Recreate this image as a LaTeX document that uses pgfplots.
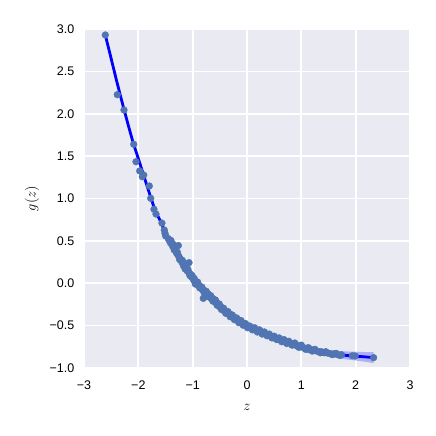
\documentclass[border=0pt]{standalone}
\usepackage{pgfplots}
\pgfplotsset{compat=1.18}
\usepackage{fontspec}
\setmainfont{Liberation Sans}
\usetikzlibrary{calc}
\definecolor{bgc}{RGB}{234,234,242}
\definecolor{pts}{RGB}{80,117,178}
\begin{document}
\begin{tikzpicture}
\begin{axis}[
  scale only axis,
  width=326bp, height=339bp,
  xmin=-3, xmax=3, ymin=-1, ymax=3,
  axis background/.style={fill=bgc},
  axis line style={draw=none},
  tick style={draw=none},
  grid=major,
  major grid style={white, line width=1.7bp},
  xtick={-3,-2,-1,0,1,2,3},
  xticklabels={−3,−2,−1,0,1,2,3},
  ytick={-1,-0.5,0,0.5,1,1.5,2,2.5,3},
  yticklabels={−1.0,−0.5,0.0,0.5,1.0,1.5,2.0,2.5,3.0},
  xticklabel style={anchor=north, inner sep=0pt, yshift=-13bp, font=\fontsize{12.5bp}{14bp}\selectfont},
  yticklabel style={anchor=east, inner sep=0pt, xshift=-9.5bp, font=\fontsize{12.5bp}{14bp}\selectfont},
  xlabel={$z$},
  ylabel={$g(z)$},
  xlabel style={at={(axis description cs:0.5,-0.1239)}, anchor=base, inner sep=0pt, font=\fontsize{15bp}{17bp}\selectfont},
  ylabel style={at={(axis description cs:-0.1595,0.5)}, anchor=center, inner sep=0pt, font=\fontsize{15bp}{17bp}\selectfont},
  clip=false,
]
\coordinate (bl) at (rel axis cs:0,0);
\coordinate (tr) at (rel axis cs:1,1);
% confidence band
\addplot[draw=none, fill=blue, fill opacity=0.25] coordinates {
(-2.61,2.975) (-2.5,2.685) (-2.4,2.42) (-2.3,2.165) (-2.2,1.92) (-2.1,1.69) (-2.0,1.485) (-1.9,1.285) (-1.8,1.082) (-1.7,0.89) (-1.6,0.75) (-1.5,0.60) (-1.4,0.49) (-1.3,0.373) (-1.2,0.263) (-1.1,0.163) (-1.0,0.068) (-0.9,-0.007) (-0.8,-0.077) (-0.7,-0.137) (-0.6,-0.202) (-0.5,-0.267) (-0.4,-0.322) (-0.3,-0.372) (-0.2,-0.417) (-0.1,-0.457) (0,-0.497) (0.2,-0.55) (0.4,-0.603) (0.6,-0.65) (0.8,-0.69) (1.0,-0.725) (1.2,-0.76) (1.4,-0.78) (1.6,-0.795) (1.8,-0.804) (2.0,-0.808) (2.2,-0.812) (2.33,-0.813)
(2.33,-0.943) (2.2,-0.928) (2.0,-0.912) (1.8,-0.896) (1.6,-0.875) (1.4,-0.85) (1.2,-0.82) (1.0,-0.775) (0.8,-0.73) (0.6,-0.68) (0.4,-0.627) (0.2,-0.57) (0,-0.513) (-0.1,-0.473) (-0.2,-0.433) (-0.3,-0.388) (-0.4,-0.338) (-0.5,-0.283) (-0.6,-0.218) (-0.7,-0.153) (-0.8,-0.093) (-0.9,-0.023) (-1.0,0.052) (-1.1,0.147) (-1.2,0.247) (-1.3,0.357) (-1.4,0.47) (-1.5,0.58) (-1.6,0.73) (-1.7,0.87) (-1.8,1.058) (-1.9,1.255) (-2.0,1.455) (-2.1,1.65) (-2.2,1.88) (-2.3,2.115) (-2.4,2.36) (-2.5,2.615) (-2.61,2.895)
} -- cycle;
% regression line
\addplot[blue, line width=2.8bp, smooth] coordinates {
(-2.61,2.935) (-2.5,2.65) (-2.4,2.39) (-2.3,2.14) (-2.2,1.90) (-2.1,1.67) (-2.0,1.47) (-1.9,1.27) (-1.8,1.07) (-1.7,0.88) (-1.6,0.74) (-1.5,0.59) (-1.4,0.48) (-1.3,0.365) (-1.2,0.255) (-1.1,0.155) (-1.0,0.06) (-0.9,-0.015) (-0.8,-0.085) (-0.7,-0.145) (-0.6,-0.21) (-0.5,-0.275) (-0.4,-0.33) (-0.3,-0.38) (-0.2,-0.425) (-0.1,-0.465) (0.0,-0.505) (0.2,-0.56) (0.4,-0.615) (0.6,-0.665) (0.8,-0.71) (1.0,-0.75) (1.2,-0.79) (1.4,-0.815) (1.6,-0.835) (1.8,-0.85) (2.0,-0.86) (2.2,-0.87) (2.33,-0.878)
};
% scatter
\addplot[only marks, color=pts, mark=*, mark size=3.4bp, mark options={draw=none, fill=pts}] coordinates {
(-2.608,2.929) (-2.387,2.225) (-2.264,2.044) (-2.085,1.640) (-2.043,1.434) (-1.975,1.325) (-1.927,1.257) (-1.901,1.277) (-1.798,1.147) (-1.772,1.002) (-1.712,0.873) (-1.675,0.817) (-1.565,0.710) (-1.522,0.628) (-1.509,0.589) (-1.496,0.558) (-1.448,0.526)
(-1.43,0.505) (-1.41,0.478) (-1.39,0.470) (-1.37,0.438) (-1.35,0.428) (-1.33,0.392) (-1.32,0.395) (-1.30,0.362) (-1.29,0.352) (-1.27,0.332) (-1.25,0.312) (-1.23,0.290) (-1.21,0.272) (-1.20,0.250) (-1.18,0.245) (-1.17,0.208) (-1.15,0.207) (-1.13,0.174) (-1.11,0.168) (-1.10,0.145) (-1.08,0.142) (-1.06,0.114) (-1.04,0.108) (-1.02,0.074) (-1.00,0.068) (-0.98,0.034) (-0.96,0.030) (-0.94,0.004) (-0.92,0.001) (-0.90,-0.020) (-0.88,-0.025) (-0.86,-0.051) (-0.84,-0.054) (-0.82,-0.076) (-0.80,-0.080) (-0.78,-0.100) (-0.76,-0.105) (-0.74,-0.126) (-0.72,-0.124) (-0.70,-0.150) (-0.68,-0.154) (-0.66,-0.176) (-0.64,-0.175) (-0.62,-0.200) (-0.60,-0.205) (-0.58,-0.226) (-0.56,-0.230) (-0.54,-0.250) (-0.52,-0.255) (-0.50,-0.280) (-0.48,-0.280) (-0.46,-0.300) (-0.44,-0.305) (-0.42,-0.325) (-0.40,-0.326) (-0.38,-0.345) (-0.36,-0.346) (-0.34,-0.365) (-0.32,-0.366) (-0.30,-0.384) (-0.28,-0.386) (-0.26,-0.404) (-0.24,-0.401) (-0.22,-0.419) (-0.20,-0.421) (-0.18,-0.438) (-0.16,-0.437) (-0.14,-0.453) (-0.12,-0.452) (-0.10,-0.468) (-0.08,-0.467) (-0.06,-0.483) (-0.04,-0.487) (-0.02,-0.498) (0.00,-0.502) (0.03,-0.518) (0.06,-0.517) (0.09,-0.533) (0.12,-0.537) (0.15,-0.548) (0.18,-0.552) (0.21,-0.568) (0.24,-0.567) (0.27,-0.583) (0.30,-0.587) (0.33,-0.598) (0.36,-0.602) (0.39,-0.613) (0.42,-0.617) (0.45,-0.633) (0.48,-0.632) (0.51,-0.648) (0.54,-0.647) (0.57,-0.663) (0.60,-0.662) (0.63,-0.678) (0.66,-0.677) (0.69,-0.688) (0.72,-0.692) (0.75,-0.703) (0.78,-0.702) (0.82,-0.718) (0.86,-0.717) (0.90,-0.733) (0.94,-0.737) (0.98,-0.752) (1.02,-0.752) (1.06,-0.768) (1.10,-0.767) (1.14,-0.782) (1.18,-0.783) (1.22,-0.792) (1.27,-0.798) (1.32,-0.807) (1.37,-0.808) (1.42,-0.820) (1.48,-0.823) (1.54,-0.832) (1.60,-0.833) (1.67,-0.842) (1.74,-0.844) (1.94,-0.856) (1.99,-0.858) (2.33,-0.878)
(-1.264,0.445) (-1.067,0.243) (-0.804,-0.178) (-1.36,0.460) (-1.12,0.190) (-0.97,0.055) (-0.58,-0.200) (-0.35,-0.340)
(-1.40,0.505) (-1.34,0.395) (-1.28,0.365) (-1.24,0.280) (-1.19,0.270) (-1.14,0.170) (-1.09,0.165) (-1.05,0.090) (-1.01,0.090) (-0.95,-0.010) (-0.91,0.015) (-0.87,-0.055) (-0.83,-0.045) (-0.79,-0.110) (-0.75,-0.095) (-0.71,-0.160) (-0.67,-0.145) (-0.63,-0.210) (-0.59,-0.195) (-0.55,-0.260) (-0.51,-0.245) (-0.47,-0.310) (-0.43,-0.295) (-0.39,-0.355) (-0.35,-0.335) (-0.31,-0.395) (-0.27,-0.375) (-0.23,-0.430) (-0.19,-0.410) (-0.15,-0.465) (-0.11,-0.440) (-0.07,-0.495) (-0.03,-0.475) (0.01,-0.525) (0.05,-0.505) (0.10,-0.550) (0.14,-0.525) (0.19,-0.575) (0.23,-0.550) (0.28,-0.600) (0.32,-0.575) (0.37,-0.620) (0.41,-0.600) (0.46,-0.645) (0.50,-0.625) (0.55,-0.665) (0.59,-0.645) (0.64,-0.690) (0.68,-0.665) (0.73,-0.710) (0.77,-0.685) (0.83,-0.730) (0.88,-0.705) (0.95,-0.755) (1.00,-0.730) (1.08,-0.780) (1.13,-0.760) (1.20,-0.800) (1.25,-0.780) (1.35,-0.820) (1.45,-0.808) (1.57,-0.842) (1.64,-0.828) (1.71,-0.852)
};
\end{axis}
\pgfresetboundingbox
\path[use as bounding box] ($(bl)+(-84bp,-68bp)$) rectangle ($(tr)+(26bp,29bp)$);
\end{tikzpicture}
\end{document}
